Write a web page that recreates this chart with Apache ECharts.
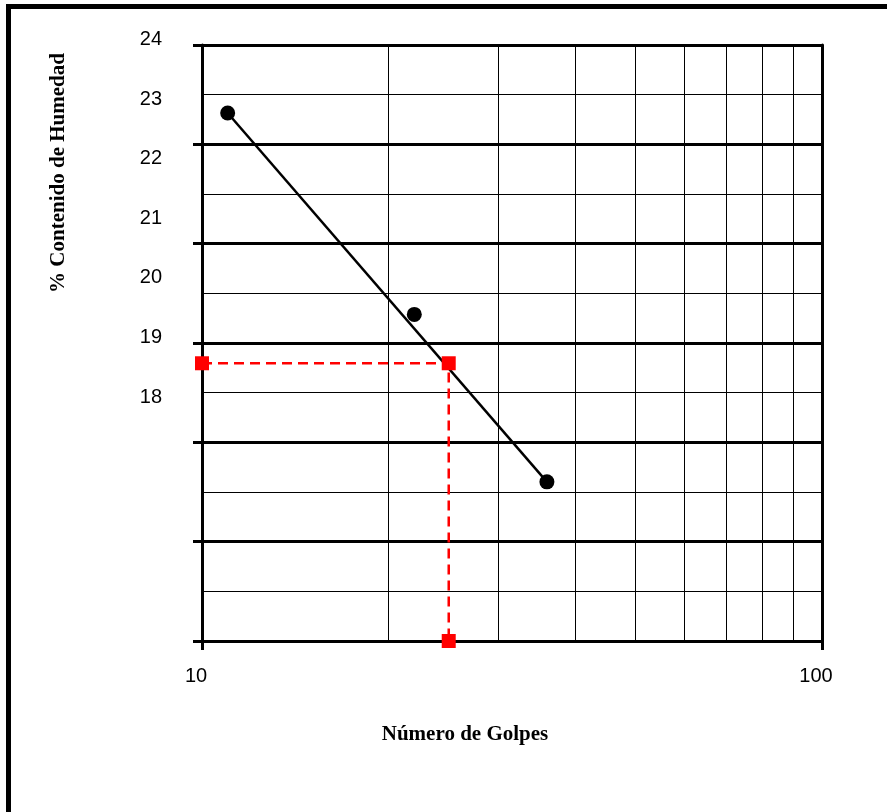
<!DOCTYPE html>
<html>
<head>
<meta charset="utf-8">
<script src="https://cdn.jsdelivr.net/npm/echarts@6/dist/echarts.min.js"></script>
<style>
  html, body { margin: 0; padding: 0; background: #fff; }
  #chart { width: 887px; height: 812px; }
</style>
</head>
<body>
<div id="chart"></div>
<script>
// ---- data ----
const golpes = [11, 22, 36];                 // número de golpes
const humedad = [22.86, 19.48, 16.67];       // % contenido de humedad
const trendGolpes = [11, 36];                // trend line ends
const trendHumedad = [22.86, 16.67];
const llGolpes = [10, 25, 25];               // dashed guide at 25 golpes
const llHumedad = [18.66, 18.66, 14];
const minorGolpes = [20, 30, 40, 50, 60, 70, 80, 90];
const yTickLabels = ['18', '19', '20', '21', '22', '23', '24'];
const xTitle = 'Número de Golpes';
const yTitle = '% Contenido de Humedad';

const pts = golpes.map((g, i) => [g, humedad[i]]);
const trend = trendGolpes.map((g, i) => [g, trendHumedad[i]]);
const guide = llGolpes.map((g, i) => [g, llHumedad[i]]);

const sans = '"Liberation Sans", Arial, sans-serif';
const serif = '"Liberation Serif", "Times New Roman", serif';

const chart = echarts.init(document.getElementById('chart'), null, { renderer: 'canvas' });
chart.setOption({
  animation: false,
  backgroundColor: '#fff',
  grid: { left: 202, top: 45, right: 65, bottom: 171, containLabel: false },
  xAxis: [{
    type: 'log', logBase: 10, min: 10, max: 100,
    axisLine: { show: true, lineStyle: { color: '#000', width: 3 } },
    axisTick: { show: true, length: 9, lineStyle: { color: '#000', width: 3 } },
    minorTick: { show: false },
    splitLine: { show: false },
    axisLabel: { color: '#000', fontFamily: sans, fontSize: 20, margin: 25, padding: [0, 12, 0, 0] }
  }],
  yAxis: [{
    type: 'value', min: 14, max: 24, interval: 1, position: 'left',
    axisLine: { show: false }, axisTick: { show: false }, splitLine: { show: false },
    axisLabel: {
      color: '#000', fontFamily: sans, fontSize: 20, margin: 40,
      verticalAlign: 'bottom', lineHeight: 11,
      formatter: v => (yTickLabels.indexOf(String(v)) >= 0 ? String(v) : '')
    }
  }, {
    type: 'value', min: 0, max: 6, interval: 1, position: 'left',
    axisLine: { show: true, lineStyle: { color: '#000', width: 3 } },
    axisTick: { show: true, length: 9, lineStyle: { color: '#000', width: 3 } },
    axisLabel: { show: false },
    splitLine: { show: true, lineStyle: { color: '#000', width: 3 } }
  }, {
    type: 'value', min: 0, max: 12, interval: 1, position: 'right',
    axisLine: { show: true, lineStyle: { color: '#000', width: 3 } },
    axisTick: { show: false },
    axisLabel: { show: false },
    splitLine: { show: true, lineStyle: { color: '#000', width: 1 } }
  }],
  graphic: [
    { type: 'rect', shape: { x: 6, y: 4, width: 881, height: 5 }, style: { fill: '#000' }, silent: true },
    { type: 'rect', shape: { x: 6, y: 4, width: 5, height: 808 }, style: { fill: '#000' }, silent: true },
    { type: 'text', x: 465, y: 735, silent: true,
      style: { text: xTitle, font: 'bold 21px ' + serif, fill: '#000', align: 'center', verticalAlign: 'middle' } },
    { type: 'text', x: 59, y: 173, rotation: Math.PI / 2, silent: true,
      style: { text: yTitle, font: 'bold 21px ' + serif, fill: '#000', align: 'center', verticalAlign: 'middle' } }
  ],
  series: [{
    name: 'grid-x', type: 'line', data: [], silent: true,
    markLine: {
      silent: true, symbol: ['none', 'none'], animation: false,
      label: { show: false },
      lineStyle: { color: '#000', width: 1, type: 'solid' },
      emphasis: { disabled: true },
      data: minorGolpes.map(v => ({ xAxis: v }))
    }
  }, {
    name: 'trend', type: 'line', data: trend, showSymbol: false, symbol: 'none',
    lineStyle: { color: '#000', width: 2.5 }, z: 4, silent: true
  }, {
    name: 'LL', type: 'line', data: guide, symbol: 'rect', symbolSize: 14,
    itemStyle: { color: '#ff0000', opacity: 1 },
    lineStyle: { color: '#ff0000', width: 2.5, type: [10, 6] }, z: 5, silent: true
  }, {
    name: 'ensayos', type: 'scatter', data: pts, symbol: 'circle', symbolSize: 15,
    itemStyle: { color: '#000', opacity: 1 }, z: 6, silent: true
  }]
});
</script>
</body>
</html>
